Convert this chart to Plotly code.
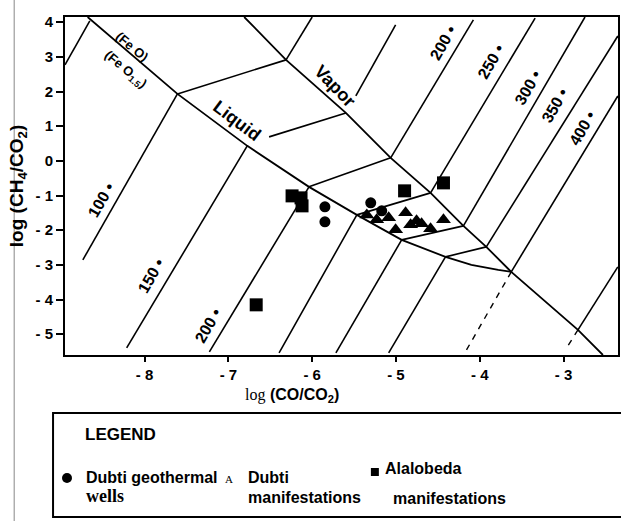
import plotly.graph_objects as go

# ---------------- data (log CO/CO2 , log CH4/CO2) ----------------
T_ladder = [100, 150, 200, 250, 300, 350]
liq_x = [-7.608, -6.775, -6.038, -5.467, -4.932, -4.409]
liq_y = [1.932, 0.433, -0.750, -1.558, -2.279, -2.769]
vap_x = [-6.312, -5.598, -5.063, -4.587, -4.195, -3.922]
vap_y = [2.913, 1.384, 0.087, -0.923, -1.875, -2.481]

liq_top = (-8.68, 4.15)
liq_tail_x = [-4.100, -3.779]
liq_tail_y = [-3.000, -3.144]
crit_x, crit_y = -3.624, -3.202          # 400 deg point
vap_top = (-6.811, 4.15)
vap450_x, vap450_y = -2.828, -4.875
vap_bottom = (-2.53, -5.6)

# upper isotherm ends for 100..450
T_upper = [100, 150, 200, 250, 300, 350, 400, 450]
up_end_x = [-6.00, -5.004, -4.076, -3.339, -2.744, -2.352, -2.352, -2.352]
up_end_y = [4.15, 3.923, 4.067, 4.12, 4.15, 3.605, 1.875, -3.057]
gap150_upper = (-5.479, 1.875)           # line hidden behind "Vapor" label
gap150_ladder = (-6.514, 0.692)          # line hidden behind "Liquid" label

# lower isotherm ends (solid, 100..350)
lo_end_x = [-8.737, -8.214, -7.227, -6.395, -5.717, -5.087]
lo_end_y = [-2.856, -5.394, -5.509, -5.538, -5.538, -5.538]
# dashed lower ends (400, 450)
dash_end_x = [-4.171, -2.970]
dash_end_y = [-5.509, -5.42]

left_iso_x = [-8.95, -8.654]
left_iso_y = [2.769, 4.038]

# samples
wells_x = [-5.848, -5.848, -5.301, -5.170]
wells_y = [-1.327, -1.759, -1.211, -1.442]
manif_x = [-5.348, -5.230, -5.087, -5.004, -4.885, -4.825, -4.754, -4.694, -4.587, -4.433]
manif_y = [-1.558, -1.702, -1.644, -1.990, -1.500, -1.846, -1.731, -1.817, -1.961, -1.702]
alal_x = [-6.240, -6.133, -6.121, -4.897, -4.433, -6.668]
alal_y = [-1.010, -1.067, -1.298, -0.865, -0.635, -4.153]

x_ticks = [-8, -7, -6, -5, -4, -3]
x_ticktext = ["- 8", "- 7", "- 6", "- 5", "- 4", "- 3"]
y_ticks = [4, 3, 2, 1, 0, -1, -2, -3, -4, -5]
y_ticktext = ["4", "3", "2", "1", "0", "- 1", "- 2", "- 3", "- 4", "- 5"]

iso_labels_upper = ["200 •", "250 •", "300 •", "350 •", "400 •"]
iso_up_lx = [-4.433, -3.862, -3.422, -3.101, -2.768]
iso_up_ly = [3.404, 2.855, 2.106, 1.586, 0.952]
iso_labels_lower = ["100 •", "150 •", "200 •"]
iso_lo_lx = [-8.511, -7.917, -7.239]
iso_lo_ly = [-1.125, -3.317, -4.759]

SANS = "Liberation Sans"
SERIF = "Liberation Serif"

fig = go.Figure()
LW = 1.6

def add_line(xs, ys, width=LW, dash="solid"):
    fig.add_trace(go.Scatter(x=xs, y=ys, mode="lines", showlegend=False,
                             line=dict(color="black", width=width, dash=dash),
                             hoverinfo="skip"))

# liquid curve
add_line([liq_top[0]] + liq_x + liq_tail_x + [crit_x],
         [liq_top[1]] + liq_y + liq_tail_y + [crit_y], 1.8)
# vapor curve
add_line([vap_top[0]] + vap_x + [crit_x, vap450_x, vap_bottom[0]],
         [vap_top[1]] + vap_y + [crit_y, vap450_y, vap_bottom[1]], 1.8)

# ladder between liquid and vapor
lx, ly = [], []
for i, t in enumerate(T_ladder):
    sx, sy = (gap150_ladder if t == 150 else (liq_x[i], liq_y[i]))
    lx += [sx, vap_x[i], None]
    ly += [sy, vap_y[i], None]
add_line(lx, ly)

# upper isotherms
start_x = vap_x + [crit_x, vap450_x]
start_y = vap_y + [crit_y, vap450_y]
ux, uy = [], []
for i, t in enumerate(T_upper):
    sx, sy = (gap150_upper if t == 150 else (start_x[i], start_y[i]))
    ux += [sx, up_end_x[i], None]
    uy += [sy, up_end_y[i], None]
add_line(ux, uy)

# lower isotherms
dx_, dy_ = [], []
for i in range(len(T_ladder)):
    dx_ += [liq_x[i], lo_end_x[i], None]
    dy_ += [liq_y[i], lo_end_y[i], None]
add_line(dx_, dy_)
add_line([crit_x, dash_end_x[0], None, vap450_x, dash_end_x[1]],
         [crit_y, dash_end_y[0], None, vap450_y, dash_end_y[1]], 1.4, "6px,6px")
add_line(left_iso_x, left_iso_y)

# samples
fig.add_trace(go.Scatter(x=alal_x, y=alal_y, mode="markers", showlegend=False,
                         marker=dict(symbol="square", size=13, color="black")))
fig.add_trace(go.Scatter(x=wells_x, y=wells_y, mode="markers", showlegend=False,
                         marker=dict(symbol="circle", size=11, color="black")))
fig.add_trace(go.Scatter(x=manif_x, y=manif_y, mode="markers", showlegend=False,
                         marker=dict(symbol="triangle-up", size=13, color="black")))

ann = []
def A(text, x, y, size=14, angle=0, xref="x", yref="y", xanchor="center",
      yanchor="middle", family=SANS, weight="bold"):
    ann.append(dict(text=text, x=x, y=y, xref=xref, yref=yref, showarrow=False,
                    textangle=angle, xanchor=xanchor, yanchor=yanchor,
                    font=dict(family=family, size=size, color="black", weight=weight)))

for t, x, y in zip(iso_labels_upper, iso_up_lx, iso_up_ly):
    A(t, x, y, 16, -60)
for t, x, y in zip(iso_labels_lower, iso_lo_lx, iso_lo_ly):
    A(t, x, y, 16, -60)
A("Vapor", -5.729, 2.163, 18, 46)
A("Liquid", -6.894, 1.154, 18, 37)
A("(Fe O)", -8.155, 3.288, 13, 40)
A("(Fe O<sub>1.5</sub>)", -8.238, 2.625, 13, 40)

def px(p):
    return (p - 65) / 555.0
def py(p):
    return (355 - p) / 338.0

A("log (CH<sub>4</sub>/CO<sub>2</sub>)", px(18), py(186), 19, -90, "paper", "paper")
A("<span style='font-family:Liberation Serif;font-weight:normal'>log</span> (CO/CO<sub>2</sub>)",
  px(293), py(395), 16, 0, "paper", "paper")

# legend
A("LEGEND", px(83), py(434), 17, 0, "paper", "paper", "left")
A("Dubti geothermal", px(84), py(477), 16, 0, "paper", "paper", "left")
A("wells", px(84), py(496), 18, 0, "paper", "paper", "left", family=SERIF)
A("A", px(230), py(479), 11, 0, "paper", "paper", family=SERIF, weight="normal")
A("Dubti", px(247), py(477), 16, 0, "paper", "paper", "left")
A("manifestations", px(247), py(497), 16, 0, "paper", "paper", "left")
A("Alalobeda", px(384), py(468), 16, 0, "paper", "paper", "left")
A("manifestations", px(392), py(498), 16, 0, "paper", "paper", "left")

shapes = [
    dict(type="rect", xref="paper", yref="paper", x0=px(53), x1=px(640),
         y0=py(517), y1=py(413), line=dict(color="black", width=2)),
    dict(type="circle", xref="paper", yref="paper", x0=px(62), x1=px(72),
         y0=py(483), y1=py(473), fillcolor="black", line=dict(color="black", width=0)),
    dict(type="rect", xref="paper", yref="paper", x0=px(372), x1=px(380),
         y0=py(476), y1=py(468), fillcolor="black", line=dict(color="black", width=0)),
    dict(type="line", xref="paper", yref="paper", x0=px(14), x1=px(14),
         y0=py(521), y1=py(0), line=dict(color="#888", width=1)),
]

fig.update_layout(
    width=621, height=521,
    margin=dict(l=65, r=1, t=17, b=166),
    paper_bgcolor="white", plot_bgcolor="white",
    annotations=ann, shapes=shapes,
    xaxis=dict(range=[-8.95, -2.35], tickvals=x_ticks, ticktext=x_ticktext,
               ticks="outside", ticklen=5, tickwidth=1.5, tickcolor="black",
               showgrid=False, zeroline=False, showline=True, linecolor="black",
               linewidth=2, mirror=True,
               tickfont=dict(family=SANS, size=15, color="black", weight="bold")),
    yaxis=dict(range=[-5.6, 4.15], tickvals=y_ticks, ticktext=y_ticktext,
               ticks="outside", ticklen=7, tickwidth=1.5, tickcolor="black",
               showgrid=False, zeroline=False, showline=True, linecolor="black",
               linewidth=2, mirror=True,
               tickfont=dict(family=SANS, size=15, color="black", weight="bold")),
)

fig.write_html("out.html")
